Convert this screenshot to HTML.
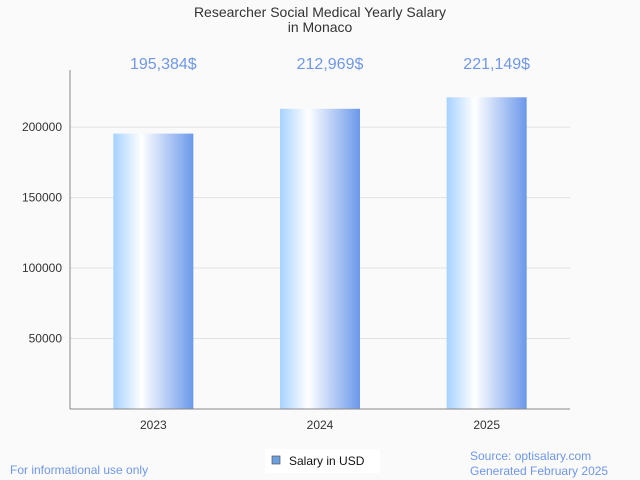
<!DOCTYPE html>
<html><head><meta charset="utf-8"><style>
body{margin:0;background:#fafafa;font-family:"Liberation Sans",sans-serif}
svg{display:block}
</style></head><body>
<svg id="c" width="640" height="480" xmlns="http://www.w3.org/2000/svg">
<defs><linearGradient id="g" x1="0" x2="1" y1="0" y2="0">
<stop offset="0" stop-color="#a6d2ff"/><stop offset="0.35" stop-color="#ffffff"/><stop offset="1" stop-color="#6b98ea"/>
</linearGradient></defs>
<rect width="640" height="480" fill="#fafafa"/>
<text x="320" y="17" text-anchor="middle" font-size="14" fill="#333">Researcher Social Medical Yearly Salary</text>
<text x="320" y="32" text-anchor="middle" font-size="14" fill="#333">in Monaco</text>
<g id="grid"></g><g id="bars"></g>
<line x1="70" y1="70" x2="70" y2="409" stroke="#888"/>
<line x1="70" y1="409" x2="570" y2="409" stroke="#888"/>
<rect x="265" y="449" width="115" height="24" fill="#fff"/>
<rect x="272" y="456" width="8" height="8" fill="#6a9fe0" stroke="#555" stroke-width="0.7"/>
<text x="289" y="465" font-size="12" fill="#111">Salary in USD</text>
<text x="10" y="474" font-size="12" fill="#6f97e6">For informational use only</text>
<text x="470" y="460" font-size="12" fill="#6f97e6">Source: optisalary.com</text>
<text x="470" y="475" font-size="12" fill="#6f97e6">Generated February 2025</text>
</svg>
<script>
const categories=["2023","2024","2025"];
const salaries=[195384,212969,221149];
const valueLabels=["195,384$","212,969$","221,149$"];
const yTicks=[50000,100000,150000,200000];
const NS="http://www.w3.org/2000/svg";
const L=70,R=570,B=409,T=70,maxV=240500;
const y=v=>B-(v/maxV)*(B-T);
const bw=(R-L)/categories.length;
const x=i=>L+bw*(i+0.5);
function mk(tag,a,p){const e=document.createElementNS(NS,tag);for(const k in a)e.setAttribute(k,a[k]);p.appendChild(e);return e;}
const grid=document.getElementById('grid'),bars=document.getElementById('bars');
yTicks.forEach(v=>{
 const l=mk('line',{x1:L,x2:R,y1:y(v),y2:y(v),stroke:'#e2e2e2'},grid);
 
 
 const t=mk('text',{x:L-8,y:y(v)+4,'text-anchor':'end','font-size':12,fill:'#333'},grid);
 t.textContent=v;
 
 
});
categories.forEach((c,i)=>{
 const r=mk('rect',{x:x(i)-40,y:y(salaries[i]),width:80,height:B-y(salaries[i]),fill:'url(#g)'},bars);
 
 
 const t=mk('text',{x:x(i),y:429,'text-anchor':'middle','font-size':12,fill:'#333'},bars);
 t.textContent=c;
 
 
 const v=mk('text',{x:x(i)+10,y:69,'text-anchor':'middle','font-size':16,fill:'#6f97e6'},bars);
 v.textContent=valueLabels[i];
 
 
});
</script>
</body></html>
